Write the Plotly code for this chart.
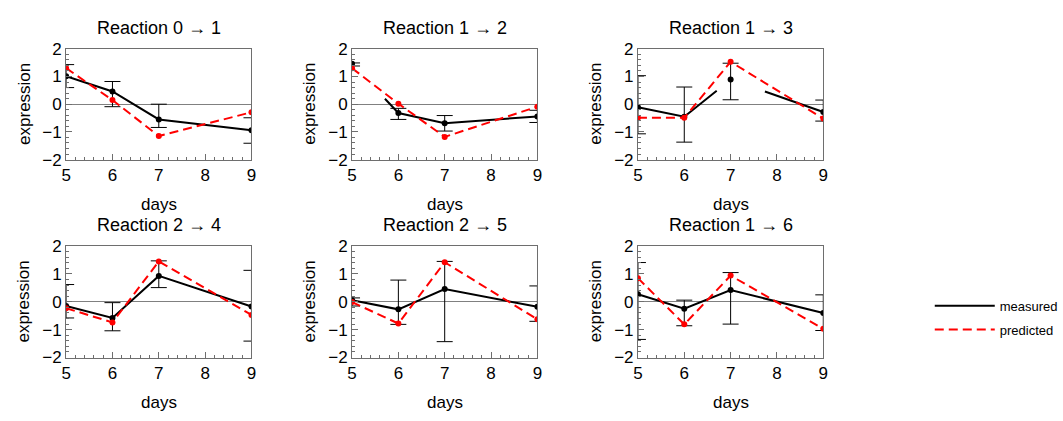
import plotly.graph_objects as go
import numpy as np

# ---------------- data ----------------
days = [5, 6, 7, 9]
reactions = ["Reaction 0 → 1", "Reaction 1 → 2", "Reaction 1 → 3",
             "Reaction 2 → 4", "Reaction 2 → 5", "Reaction 1 → 6"]

measured_r01 = [1.01, 0.46, -0.55, -0.94]
measured_r12 = [1.46, -0.32, -0.69, -0.44]
measured_r13 = [-0.11, -0.45, 0.89, -0.28]
measured_r24 = [-0.15, -0.58, 0.93, -0.17]
measured_r25 = [0.06, -0.27, 0.46, -0.18]
measured_r16 = [0.27, -0.25, 0.42, -0.40]

err_low_r01 = [0.60, -0.09, -0.84, -1.41]
err_low_r12 = [1.38, -0.55, -0.97, -0.66]
err_low_r13 = [-1.07, -1.37, 0.16, -0.61]
err_low_r24 = [-0.58, -1.04, 0.51, -1.41]
err_low_r25 = [-0.15, -0.81, -1.43, -0.70]
err_low_r16 = [-1.35, -0.86, -0.80, -1.03]

err_high_r01 = [1.43, 0.82, 0.00, -0.49]
err_high_r12 = [1.49, -0.15, -0.41, -0.22]
err_high_r13 = [1.03, 0.62, 1.48, 0.15]
err_high_r24 = [0.62, -0.03, 1.47, 1.13]
err_high_r25 = [0.14, 0.78, 1.45, 0.57]
err_high_r16 = [1.41, 0.06, 1.05, 0.25]

predicted_r01 = [1.30, 0.15, -1.15, -0.29]
predicted_r12 = [1.30, 0.02, -1.18, -0.09]
predicted_r13 = [-0.49, -0.49, 1.53, -0.52]
predicted_r24 = [-0.23, -0.74, 1.45, -0.47]
predicted_r25 = [-0.01, -0.78, 1.42, -0.63]
predicted_r16 = [0.85, -0.81, 0.94, -0.97]

# gaps (in days) where the measured connecting line is not drawn
line_gaps_r12 = [(5.0, 5.71)]
line_gaps_r13 = [(6.70, 7.74)]

measured = [measured_r01, measured_r12, measured_r13, measured_r24, measured_r25, measured_r16]
err_low = [err_low_r01, err_low_r12, err_low_r13, err_low_r24, err_low_r25, err_low_r16]
err_high = [err_high_r01, err_high_r12, err_high_r13, err_high_r24, err_high_r25, err_high_r16]
predicted = [predicted_r01, predicted_r12, predicted_r13, predicted_r24, predicted_r25, predicted_r16]
line_gaps = [[], line_gaps_r12, line_gaps_r13, [], [], []]

# ---------------- layout geometry ----------------
W, H = 1063, 421
col_px = [(62, 250), (352, 540), (642, 830)]
row_px = [(41.7, 157.7), (248.3, 365.0)]

FONT = "Liberation Sans, Arial, sans-serif"
FRAME = "#6e6e6e"


def gapped_path(xv, yv, gaps):
    pts = sorted(set(list(xv) + [g for gp in gaps for g in gp]))
    px, py = [pts[0]], [float(np.interp(pts[0], xv, yv))]
    for a, b in zip(pts[:-1], pts[1:]):
        m = 0.5 * (a + b)
        if any(g0 <= m <= g1 for g0, g1 in gaps):
            px.append(None)
            py.append(None)
        px.append(b)
        py.append(float(np.interp(b, xv, yv)))
    return px, py


fig = go.Figure()
annotations = []

for i in range(6):
    r, c = divmod(i, 3)
    ax = "" if i == 0 else str(i + 1)
    xref, yref = "x" + ax, "y" + ax

    lx, ly = gapped_path(days, measured[i], line_gaps[i])
    fig.add_trace(go.Scatter(
        x=lx, y=ly, mode="lines", xaxis=xref, yaxis=yref,
        line=dict(color="black", width=2),
        name="measured", legendgroup="measured", showlegend=(i == 0)))
    fig.add_trace(go.Scatter(
        x=days, y=measured[i], mode="markers", xaxis=xref, yaxis=yref,
        marker=dict(color="black", size=6),
        error_y=dict(type="data", symmetric=False,
                     array=[h - v for h, v in zip(err_high[i], measured[i])],
                     arrayminus=[v - l for l, v in zip(err_low[i], measured[i])],
                     color="black", thickness=1, width=8),
        name="measured", legendgroup="measured", showlegend=False))
    fig.add_trace(go.Scatter(
        x=days, y=predicted[i], mode="lines", xaxis=xref, yaxis=yref,
        line=dict(color="#ff0000", width=2, dash="9px,5px"),
        name="predicted", legendgroup="predicted", showlegend=(i == 0)))
    fig.add_trace(go.Scatter(
        x=days, y=predicted[i], mode="markers", xaxis=xref, yaxis=yref,
        marker=dict(color="#ff0000", size=6),
        name="predicted", legendgroup="predicted", showlegend=False))

    x0, x1 = col_px[c]
    y0, y1 = row_px[r]
    common = dict(showline=True, linecolor=FRAME, linewidth=1, mirror=True,
                  ticks="inside", ticklen=6, tickcolor=FRAME, tickwidth=1,
                  showgrid=False,
                  tickfont=dict(family=FONT, size=17, color="black"))
    fig.layout["xaxis" + ax] = dict(
        domain=[x0 / W, x1 / W], range=[5, 9], tickvals=[5, 6, 7, 8, 9],
        zeroline=False, anchor=yref,
        minor=dict(ticks="inside", ticklen=3, dtick=0.2, tickcolor=FRAME, showgrid=False),
        **common)
    fig.layout["yaxis" + ax] = dict(
        domain=[1 - y1 / H, 1 - y0 / H], range=[-2, 2], tickvals=[-2, -1, 0, 1, 2],
        zeroline=True, zerolinecolor="#808080", zerolinewidth=1, anchor=xref,
        minor=dict(ticks="inside", ticklen=3, dtick=0.2, tickcolor=FRAME, showgrid=False),
        **common)

    xc = (x0 + x1) / 2 / W
    annotations.append(dict(text=reactions[i], x=xc, y=1 - (20 + r * 206.7) / H,
                            xref="paper", yref="paper", showarrow=False,
                            font=dict(family=FONT, size=18, color="black"),
                            xanchor="center", yanchor="middle"))
    annotations.append(dict(text="days", x=xc, y=1 - (205 + r * 206.7) / H,
                            xref="paper", yref="paper", showarrow=False,
                            font=dict(family=FONT, size=17, color="black"),
                            xanchor="center", yanchor="middle"))
    annotations.append(dict(text="expression", x=(19 + x0 - 62) / W,
                            y=1 - (y0 + y1) / 2 / H,
                            xref="paper", yref="paper", showarrow=False, textangle=-90,
                            font=dict(family=FONT, size=17, color="black"),
                            xanchor="center", yanchor="middle"))

fig.update_layout(
    width=W, height=H,
    margin=dict(l=0, r=0, t=0, b=0),
    paper_bgcolor="white", plot_bgcolor="white",
    annotations=annotations,
    showlegend=True,
    legend=dict(x=938 / W, y=1 - 295 / H, xanchor="left", yanchor="top",
                font=dict(family=FONT, size=13, color="black"),
                itemwidth=60, tracegroupgap=4, bgcolor="rgba(0,0,0,0)"),
)

fig.write_html("out.html", config={"displayModeBar": False},
               post_script="document.body.style.margin='0';document.body.style.overflow='hidden';")
